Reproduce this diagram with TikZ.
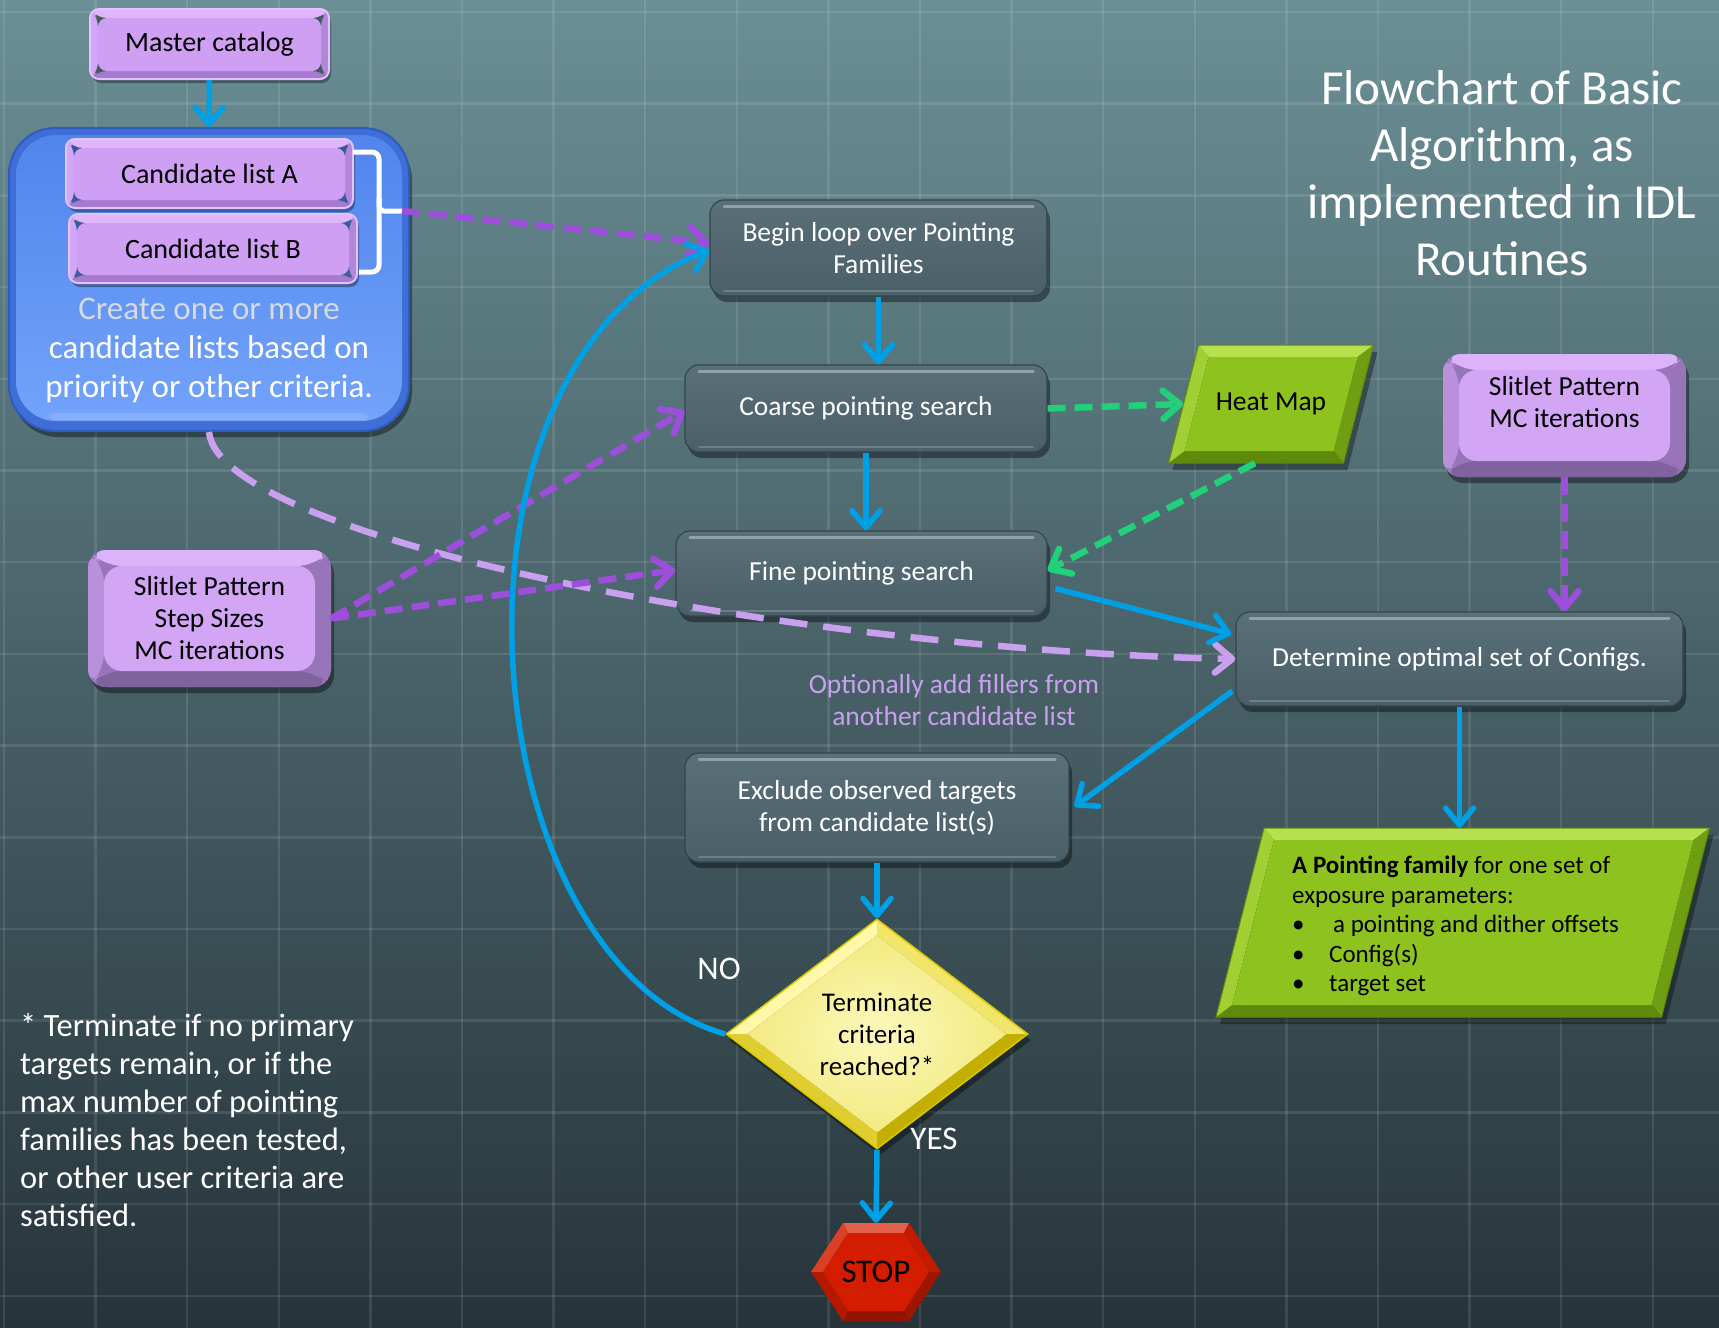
\documentclass[tikz,border=0pt]{standalone}
\usepackage{fontspec}
\setmainfont{Carlito}
\usetikzlibrary{arrows.meta,shapes.geometric,shadows,calc}

% background and grid
\definecolor{bgtop}{HTML}{6A8F95}
\definecolor{bgmid}{HTML}{4B666D}
\definecolor{bgbot}{HTML}{26343A}
% connectors
\definecolor{cblue}{HTML}{00A0E6}
\definecolor{cpurple}{HTML}{9D4FDB}
\definecolor{clilac}{HTML}{C9A0EE}
\definecolor{cgreen}{HTML}{22D07A}
% dark process boxes
\definecolor{darktop}{HTML}{5A7079}
\definecolor{darkbot}{HTML}{4A5F67}
\definecolor{darkedge}{HTML}{33454C}
\definecolor{darkhl}{HTML}{8EA4AA}
\definecolor{darklo}{HTML}{6A7F86}
% lilac boxes
\definecolor{pedge}{HTML}{E3C2FF}
\definecolor{ptop}{HTML}{DFB6FC}
\definecolor{pleft}{HTML}{D2A6F7}
\definecolor{pright}{HTML}{B386DA}
\definecolor{pbot}{HTML}{A67AD0}
\definecolor{pface}{HTML}{CF9FF4}
\definecolor{ktop}{HTML}{DCB2FB}
\definecolor{kleft}{HTML}{B891DA}
\definecolor{kright}{HTML}{9874B9}
\definecolor{kbot}{HTML}{80629E}
\definecolor{kface}{HTML}{D3A6F5}
% blue container
\definecolor{bbedge}{HTML}{3F6FD6}
\definecolor{bbline}{HTML}{2E5BBF}
\definecolor{bbtop}{HTML}{5084EC}
\definecolor{bbbot}{HTML}{74A4FB}
\definecolor{bblight}{HTML}{A6C6FF}
\definecolor{bbfaint}{HTML}{D4DAE6}
% green data shapes
\definecolor{gtop}{HTML}{B6E04E}
\definecolor{gleft}{HTML}{A2D034}
\definecolor{gright}{HTML}{6F9E12}
\definecolor{gbot}{HTML}{5E8A0C}
\definecolor{gface}{HTML}{8DC21F}
% decision diamond
\definecolor{ynw}{HTML}{FFF8A8}
\definecolor{yne}{HTML}{F2E66A}
\definecolor{yse}{HTML}{C4AE00}
\definecolor{ysw}{HTML}{E0CE30}
\definecolor{yface}{HTML}{F3EA80}
\definecolor{yin}{HTML}{FCF8BC}
\definecolor{ydark}{HTML}{D9C800}
% stop sign
\definecolor{rface}{HTML}{D41D00}

\newcommand\fsz[2]{\fontsize{#1}{#2}\selectfont}

% bevelled rectangle drawn inside a node (path picture)
\newcommand\bevelrect[8]{%
  \coordinate (bvNW) at (path picture bounding box.north west);
  \coordinate (bvNE) at (path picture bounding box.north east);
  \coordinate (bvSE) at (path picture bounding box.south east);
  \coordinate (bvSW) at (path picture bounding box.south west);
  \coordinate (bvnw) at ([shift={(#1,-#2)}]bvNW);
  \coordinate (bvne) at ([shift={(-#1,-#2)}]bvNE);
  \coordinate (bvse) at ([shift={(-#1,#3)}]bvSE);
  \coordinate (bvsw) at ([shift={(#1,#3)}]bvSW);
  \fill[#4] (bvNW) -- (bvNE) -- (bvne) -- (bvnw) -- cycle;
  \fill[#5] (bvNE) -- (bvSE) -- (bvse) -- (bvne) -- cycle;
  \fill[#6] (bvSE) -- (bvSW) -- (bvsw) -- (bvse) -- cycle;
  \fill[#7] (bvSW) -- (bvNW) -- (bvnw) -- (bvsw) -- cycle;
  \fill[#8] (bvnw) rectangle (bvse);
}

% bevelled parallelogram: centre x, centre y, half width, half height, half slant
\newcommand\drawpar[5]{%
  \coordinate (bpA) at ({#1-#3+#5},{#2-#4});
  \coordinate (bpB) at ({#1+#3+#5},{#2-#4});
  \coordinate (bpC) at ({#1+#3-#5},{#2+#4});
  \coordinate (bpD) at ({#1-#3-#5},{#2+#4});
  \coordinate (bpa) at ([shift={(10,12)}]bpA);
  \coordinate (bpb) at ([shift={(-16,12)}]bpB);
  \coordinate (bpc) at ([shift={(-10,-12)}]bpC);
  \coordinate (bpd) at ([shift={(16,-12)}]bpD);
  \fill[black, opacity=0.35] ([shift={(4,7)}]bpA) -- ([shift={(4,7)}]bpB)
     -- ([shift={(4,7)}]bpC) -- ([shift={(4,7)}]bpD) -- cycle;
  \fill[gtop] (bpA) -- (bpB) -- (bpb) -- (bpa) -- cycle;
  \fill[gright] (bpB) -- (bpC) -- (bpc) -- (bpb) -- cycle;
  \fill[gbot] (bpC) -- (bpD) -- (bpd) -- (bpc) -- cycle;
  \fill[gleft] (bpD) -- (bpA) -- (bpa) -- (bpd) -- cycle;
  \fill[gface] (bpa) -- (bpb) -- (bpc) -- (bpd) -- cycle;
  \draw[gbot, line width=1pt] (bpA) -- (bpB) -- (bpC) -- (bpD) -- cycle;
}

\tikzset{
  every node/.style={inner sep=0pt},
  barbtip/.style={-{Straight Barb[length=17pt,width=28pt,round]}},
  flow/.style={draw=cblue, line width=5.5pt, barbtip},
  pdash/.style={draw=cpurple, line width=6.5pt, dash pattern=on 18pt off 9pt, barbtip},
  ldash/.style={draw=clilac, line width=6.5pt, dash pattern=on 28pt off 16pt, barbtip},
  gdash/.style={draw=cgreen, line width=6.5pt, dash pattern=on 18pt off 9pt, barbtip},
  gridline/.style={draw=white, opacity=0.1, line width=2.5pt},
  boxshadow/.style={drop shadow={shadow xshift=3pt, shadow yshift=-6pt, opacity=0.4, fill=black}},
  darkbox/.style={rectangle, rounded corners=14pt, draw=darkedge, line width=1.2pt,
    top color=darktop, bottom color=darkbot, text=white, font=\fsz{27.5}{32},
    align=center, boxshadow,
    path picture={
      \draw[darkhl, line width=3pt, line cap=round]
        ([shift={(14pt,-6pt)}]path picture bounding box.north west) --
        ([shift={(-14pt,-6pt)}]path picture bounding box.north east);
      \draw[darklo, line width=2pt, line cap=round]
        ([shift={(14pt,5pt)}]path picture bounding box.south west) --
        ([shift={(-14pt,5pt)}]path picture bounding box.south east);
    }},
  pflat/.style={rectangle, rounded corners=9pt, draw=pedge, line width=2pt,
    font=\fsz{28}{32}, text=black,
    drop shadow={shadow xshift=2pt, shadow yshift=-4pt, opacity=0.35, fill=black},
    path picture={\bevelrect{8pt}{9pt}{8pt}{ptop}{pright}{pbot}{pleft}{pface}}},
  keycap/.style={rectangle, rounded corners=18pt, fill=kright,
    font=\fsz{27.5}{32}, text=black, align=center, boxshadow,
    path picture={\bevelrect{16pt}{16pt}{16pt}{ktop}{kright}{kbot}{kleft}{kface}}},
  bluebox/.style={rectangle, rounded corners=46pt, fill=bbedge, draw=bbline,
    line width=2pt, boxshadow,
    path picture={
      \fill[rounded corners=40pt, top color=bbtop, bottom color=bbbot]
        ([shift={(7pt,-7pt)}]path picture bounding box.north west) rectangle
        ([shift={(-7pt,10pt)}]path picture bounding box.south east);
      \fill[bblight, rounded corners=6pt, opacity=0.35]
        ([shift={(40pt,18pt)}]path picture bounding box.south west) rectangle
        ([shift={(-40pt,11pt)}]path picture bounding box.south east);
    }},
  decision/.style={diamond, draw=ydark, line width=1.5pt, font=\fsz{27}{32},
    align=center, text=black, boxshadow,
    path picture={
      \coordinate (dN) at (path picture bounding box.north);
      \coordinate (dE) at (path picture bounding box.east);
      \coordinate (dS) at (path picture bounding box.south);
      \coordinate (dW) at (path picture bounding box.west);
      \coordinate (dn) at ([yshift=-16pt]dN);
      \coordinate (de) at ([xshift=-21pt]dE);
      \coordinate (ds) at ([yshift=16pt]dS);
      \coordinate (dw) at ([xshift=21pt]dW);
      \fill[ynw] (dW) -- (dN) -- (dn) -- (dw) -- cycle;
      \fill[yne] (dN) -- (dE) -- (de) -- (dn) -- cycle;
      \fill[yse] (dE) -- (dS) -- (ds) -- (de) -- cycle;
      \fill[ysw] (dS) -- (dW) -- (dw) -- (ds) -- cycle;
      \shade[inner color=yin, outer color=yface] (dn) -- (de) -- (ds) -- (dw) -- cycle;
    }},
  stopsign/.style={rectangle, font=\fsz{33}{36}, text=black,
    path picture={
      \coordinate (hL) at (path picture bounding box.west);
      \coordinate (hTL) at ([xshift=32pt]path picture bounding box.north west);
      \coordinate (hTR) at ([xshift=-32pt]path picture bounding box.north east);
      \coordinate (hR) at (path picture bounding box.east);
      \coordinate (hBR) at ([xshift=-32pt]path picture bounding box.south east);
      \coordinate (hBL) at ([xshift=32pt]path picture bounding box.south west);
      \coordinate (hl) at ([xshift=12pt]hL);
      \coordinate (htl) at ([shift={(5pt,-10pt)}]hTL);
      \coordinate (htr) at ([shift={(-5pt,-10pt)}]hTR);
      \coordinate (hr) at ([xshift=-12pt]hR);
      \coordinate (hbr) at ([shift={(-5pt,10pt)}]hBR);
      \coordinate (hbl) at ([shift={(5pt,10pt)}]hBL);
      \fill[rface!70!white] (hTL) -- (hTR) -- (htr) -- (htl) -- cycle;
      \fill[rface!85!white] (hL) -- (hTL) -- (htl) -- (hl) -- cycle;
      \fill[rface!92!black] (hTR) -- (hR) -- (hr) -- (htr) -- cycle;
      \fill[rface!75!black] (hR) -- (hBR) -- (hbr) -- (hr) -- cycle;
      \fill[rface!68!black] (hBR) -- (hBL) -- (hbl) -- (hbr) -- cycle;
      \fill[rface!85!black] (hBL) -- (hL) -- (hl) -- (hbl) -- cycle;
      \fill[rface] (hl) -- (htl) -- (htr) -- (hr) -- (hbr) -- (hbl) -- cycle;
    }},
}

\begin{document}
\begin{tikzpicture}[x=1pt,y=-1pt]
\useasboundingbox (0,0) rectangle (1719,1328);

% backdrop with a faint grid
\shade[top color=bgtop, middle color=bgmid, bottom color=bgbot] (0,0) rectangle (1719,1328);
\foreach \gx in {0,...,18} \draw[gridline] ({4+91.6*\gx},0) -- ++(0,1328);
\foreach \gy in {0,...,14} \draw[gridline] (0,{12+91.7*\gy}) -- ++(1719,0);

% catalog and candidate lists
\node[pflat, minimum width=239pt, minimum height=70pt] (master) at (209.5,44) {Master catalog};
\node[bluebox, minimum width=400pt, minimum height=303pt] (cands) at (209,279.5) {};
\node[pflat, minimum width=287pt, minimum height=69pt] (candA) at (209.5,173.5) {Candidate list A};
\node[pflat, minimum width=288pt, minimum height=69pt] (candB) at (213,248.5) {Candidate list B};
\node[align=center, text=white, font=\fsz{33}{39}] (candtxt) at (209,350)
  {\textcolor{bbfaint}{Create one or more}\\candidate lists based on\\priority or other criteria.};
\draw[white, line width=5pt, rounded corners=7pt] (353,152) -- (379,152) -- (379,272) -- (359,272);
\draw[white, line width=5pt, rounded corners=5pt] (379,198) -- (379,211) -- (402,211);
\coordinate (brtip) at (402,211);

% main loop
\node[darkbox, minimum width=337pt, minimum height=96pt] (begin) at (878.5,248) {Begin loop over Pointing\\Families};
\node[darkbox, minimum width=362pt, minimum height=87pt] (coarse) at (866,408.5) {Coarse pointing search};
\node[darkbox, minimum width=371pt, minimum height=85pt] (fine) at (861.5,573.5) {Fine pointing search};
\node[darkbox, minimum width=447pt, minimum height=94pt] (determine) at (1459.5,659) {Determine optimal set of Configs.};
\node[darkbox, minimum width=384pt, minimum height=109pt] (exclude) at (877,807.5) {Exclude observed targets\\from candidate list(s)};

% parameter inputs
\node[keycap, minimum width=243pt, minimum height=137pt] (slitL) at (209.5,618.5) {Slitlet Pattern\\Step Sizes\\MC iterations};
\node[keycap, minimum width=243pt, minimum height=123pt] (slitR) at (1564.5,415.5) {};
\node[align=center, font=\fsz{27.5}{32}] (slitRtxt) at (1564.5,402) {Slitlet Pattern\\MC iterations};

% data products
\drawpar{1271}{404}{87.5}{59}{15}
\node[minimum width=175pt, minimum height=118pt, font=\fsz{27.5}{32}] (heat) at (1271,404) {Heat Map};
\drawpar{1462.75}{922.5}{222.75}{94.5}{24}
\node[minimum width=445.5pt, minimum height=189pt] (pfam) at (1462.75,922.5) {};
\node[anchor=north west, align=left, font=\fsz{25}{29.5}] (pfamtxt) at (1292,856)
  {\textbf{A Pointing family} for one set of\\exposure parameters:\\
   \makebox[41pt][l]{•}a pointing and dither offsets\\
   \makebox[37pt][l]{•}Config(s)\\
   \makebox[37pt][l]{•}target set};

% decision and end
\node[decision, minimum width=302pt, minimum height=230pt] (dia) at (877,1034) {Terminate\\criteria\\reached?*};
\node[stopsign, minimum width=130pt, minimum height=98pt] (stop) at (876,1272) {STOP};

% free text
\node[text=white, font=\fsz{33}{36}] (nolab) at (719,969) {NO};
\node[text=white, font=\fsz{33}{36}] (yeslab) at (934,1139) {YES};
\node[align=center, text=clilac, font=\fsz{27.5}{32}] (filltxt) at (954,700) {Optionally add fillers from\\another candidate list};
\node[align=center, text=white, font=\fsz{49}{57}] (title) at (1502,173.5) {Flowchart of Basic\\Algorithm, as\\implemented in IDL\\Routines};
\node[anchor=north west, align=left, text=white, font=\fsz{32.5}{38}] (note) at (20,1013)
  {* Terminate if no primary\\targets remain, or if the\\max number of pointing\\families has been tested,\\or other user criteria are\\satisfied.};

% connectors
\draw[flow] (master.south) -- (cands.north);
\draw[ldash] (cands.south) .. controls (220,540) and (800,650) .. (determine.west);
\draw[pdash] (brtip) -- ([yshift=5pt]begin.west);
\draw[pdash] (slitL.east) -- ([yshift=-2.5pt]coarse.west);
\draw[pdash] (slitL.east) -- ([yshift=3.5pt]fine.west);
\draw[flow] (dia.west) .. controls (465,960) and (425,360) .. ([yshift=-2pt]begin.west);
\draw[flow] (begin.south) -- (begin.south |- coarse.north);
\draw[flow] (coarse.south) -- (coarse.south |- fine.north);
\draw[gdash] (coarse.east) -- (heat.west);
\draw[gdash] ([xshift=-16pt]heat.south) -- ([yshift=3pt]fine.east);
\draw[flow] ([shift={(8,15)}]fine.east) -- ([shift={(-4,-25)}]determine.west);
\draw[pdash] (slitR.south) -- (slitR.south |- determine.north);
\draw[flow] ([shift={(-3,32)}]determine.west) -- ([shift={(5,-1)}]exclude.east);
\draw[flow] (determine.south) -- (determine.south |- pfam.north);
\draw[flow] (exclude.south) -- (dia.north);
\draw[flow] (dia.south) -- (stop.north);
\end{tikzpicture}
\end{document}
